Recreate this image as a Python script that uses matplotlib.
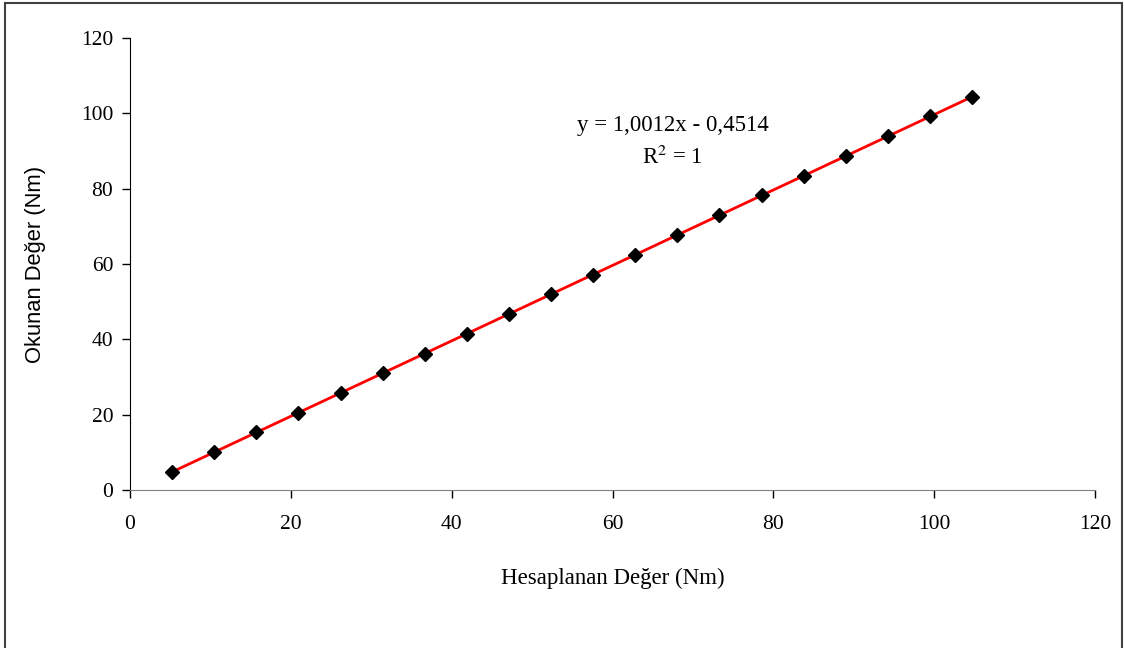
import matplotlib
matplotlib.use("Agg")
import matplotlib.pyplot as plt
import numpy as np
from matplotlib.patches import Rectangle

hesaplanan = [5.24, 10.47, 15.71, 20.94, 26.18, 31.42, 36.65, 41.89, 47.12, 52.36,
              57.60, 62.83, 68.07, 73.30, 78.54, 83.78, 89.01, 94.25, 99.48, 104.72]
okunan = [4.8, 10.0, 15.3, 20.5, 25.8, 31.0, 36.2, 41.5, 46.7, 52.0,
          57.2, 62.5, 67.7, 72.9, 78.2, 83.4, 88.7, 93.9, 99.2, 104.4]
slope, intercept = 1.0012, -0.4514
x_ticks = [0, 20, 40, 60, 80, 100, 120]
y_ticks = [0, 20, 40, 60, 80, 100, 120]

serif = "Liberation Serif"
sans = "Liberation Sans"

fig = plt.figure(figsize=(11.24, 6.48), dpi=100)
fig.patches.append(Rectangle((5/1124, -0.1), 1117/1124, 1.1 - 3/648, transform=fig.transFigure,
                             fill=False, edgecolor="#404040", linewidth=1.5))
ax = fig.add_axes([130/1124, 1 - 490/648, (1095-130)/1124, (490-38)/648])

xs = np.array([hesaplanan[0], hesaplanan[-1]])
ax.plot(xs, slope * xs + intercept, color="#ff0000", linewidth=2.0, zorder=2)
ax.plot(hesaplanan, okunan, linestyle="none", marker="D", markersize=7,
        color="black", zorder=3)

ax.set_xlim(0, 120)
ax.set_ylim(0, 120)
ax.set_xticks(x_ticks)
ax.set_yticks(y_ticks)
ax.spines["top"].set_visible(False)
ax.spines["right"].set_visible(False)
ax.spines["bottom"].set_color("#808080")
ax.spines["left"].set_color("black")
ax.tick_params(direction="out", length=6, width=1, labelsize=15.5)
ax.tick_params(axis="x", pad=12)
ax.tick_params(axis="y", pad=6)
for lab in ax.get_xticklabels() + ax.get_yticklabels():
    lab.set_fontfamily(serif)

ax.set_xlabel("Hesaplanan Değer (Nm)", fontfamily=serif, fontsize=16.5, labelpad=24)
ax.set_ylabel("Okunan Değer (Nm)", fontfamily=sans, fontsize=15.8, labelpad=25)

fig.text(673/1124, 1 - 125/648, "y = 1,0012x - 0,4514", fontsize=16.5,
         fontfamily=serif, ha="center", va="center")
fig.text(672/1124, 1 - 157/648, r"R$^2$ = 1", fontsize=16.5, fontfamily=serif,
         ha="center", va="center", math_fontfamily="stix")

fig.savefig("out.png", dpi=100)
